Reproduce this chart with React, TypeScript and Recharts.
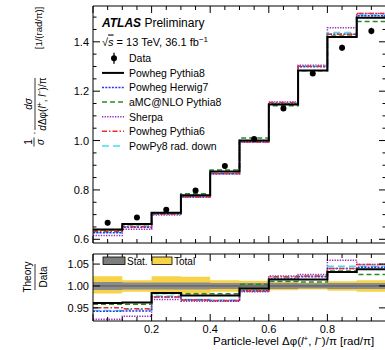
import {
  ComposedChart,
  Line,
  Area,
  Scatter,
  XAxis,
  YAxis,
  ErrorBar,
  ReferenceLine,
} from 'recharts'

// bin edges and centres of the Δφ(l+,l-)/π distribution
const binEdges = [0, 0.1, 0.2, 0.3, 0.4, 0.5, 0.6, 0.7, 0.8, 0.9, 1.0]
const binCentres = [0.05, 0.15, 0.25, 0.35, 0.45, 0.55, 0.65, 0.75, 0.85, 0.95]

// measured data
const dataValues = [0.667, 0.688, 0.72, 0.798, 0.897, 1.006, 1.13, 1.272, 1.376, 1.444]
const dataErrors = [0.01, 0.008, 0.009, 0.009, 0.009, 0.009, 0.01, 0.011, 0.012, 0.013]

// predictions, normalised cross-section
const powhegPythia8 = [0.64, 0.662, 0.708, 0.778, 0.875, 1.0, 1.146, 1.284, 1.419, 1.497]
const powhegHerwig7 = [0.627, 0.649, 0.702, 0.772, 0.866, 0.995, 1.148, 1.299, 1.431, 1.506]
const amcPythia8 = [0.638, 0.659, 0.708, 0.784, 0.881, 1.01, 1.141, 1.283, 1.423, 1.482]
const sherpa = [0.615, 0.641, 0.698, 0.77, 0.866, 0.993, 1.156, 1.305, 1.457, 1.515]
const powhegPythia6 = [0.633, 0.652, 0.702, 0.772, 0.867, 0.994, 1.154, 1.301, 1.431, 1.515]
const powPy8RadDown = [0.629, 0.651, 0.703, 0.773, 0.868, 0.996, 1.151, 1.301, 1.438, 1.509]

// theory / data
const ratioPowhegPythia8 = [0.961, 0.962, 0.984, 0.978, 0.978, 0.994, 1.015, 1.015, 1.032, 1.038]
const ratioPowhegHerwig7 = [0.942, 0.943, 0.975, 0.968, 0.966, 0.989, 1.016, 1.021, 1.04, 1.043]
const ratioAmcPythia8 = [0.958, 0.958, 0.983, 0.982, 0.982, 1.004, 1.01, 1.009, 1.034, 1.026]
const ratioSherpa = [0.924, 0.931, 0.969, 0.965, 0.965, 0.987, 1.023, 1.026, 1.059, 1.049]
const ratioPowhegPythia6 = [0.95, 0.948, 0.975, 0.968, 0.967, 0.988, 1.021, 1.023, 1.04, 1.049]
const ratioPowPy8RadDown = [0.944, 0.946, 0.977, 0.969, 0.968, 0.99, 1.019, 1.023, 1.045, 1.045]

// relative uncertainties
const statUnc = [0.009, 0.008, 0.008, 0.008, 0.007, 0.007, 0.007, 0.006, 0.007, 0.007]
const totalUp = [0.022, 0.013, 0.022, 0.021, 0.013, 0.012, 0.01, 0.008, 0.011, 0.013]
const totalDown = [0.017, 0.013, 0.017, 0.017, 0.013, 0.012, 0.01, 0.008, 0.011, 0.013]

// ticks
const xTicks = [0, 0.05, 0.1, 0.15, 0.2, 0.25, 0.3, 0.35, 0.4, 0.45, 0.5, 0.55, 0.6, 0.65, 0.7, 0.75, 0.8, 0.85, 0.9, 0.95, 1.0]
const xLabelTicks = [0.2, 0.4, 0.6, 0.8]
const yTopTicks = [0.6, 0.65, 0.7, 0.75, 0.8, 0.85, 0.9, 0.95, 1.0, 1.05, 1.1, 1.15, 1.2, 1.25, 1.3, 1.35, 1.4, 1.45, 1.5]
const yTopLabelTicks = [0.6, 0.8, 1.0, 1.2, 1.4]
const yRatioTicks = [0.95, 1.0, 1.05]

const legendNames = [
  'Powheg Pythia8',
  'Powheg Herwig7',
  'aMC@NLO Pythia8',
  'Sherpa',
  'Powheg Pythia6',
  'PowPy8 rad. down',
]

const FONT = '"Liberation Sans", Arial, Helvetica, sans-serif'

const series = [
  { key: 'sherpa', name: 'Sherpa', color: '#9b27b8', dash: '1.3 1.3', width: 1.5 },
  { key: 'raddown', name: 'PowPy8 rad. down', color: '#3fe0f0', dash: '7 4', width: 1.5 },
  { key: 'her7', name: 'Powheg Herwig7', color: '#2435ee', dash: '2 1.3', width: 1.5 },
  { key: 'py6', name: 'Powheg Pythia6', color: '#ec2b2b', dash: '5 2 1.5 2', width: 1.5 },
  { key: 'amc', name: 'aMC@NLO Pythia8', color: '#2a8a2a', dash: '5 3', width: 1.5 },
  { key: 'pp8', name: 'Powheg Pythia8', color: '#000000', dash: undefined, width: 2 },
]

const pick = (arr: number[], i: number) => arr[Math.min(i, arr.length - 1)]

const topRows = binEdges.map((x, i) => ({
  x,
  pp8: pick(powhegPythia8, i),
  her7: pick(powhegHerwig7, i),
  amc: pick(amcPythia8, i),
  sherpa: pick(sherpa, i),
  py6: pick(powhegPythia6, i),
  raddown: pick(powPy8RadDown, i),
}))

const pointRows = binCentres.map((x, i) => ({ x, y: dataValues[i], err: dataErrors[i] }))

const ratioRows = binEdges.map((x, i) => ({
  x,
  pp8: pick(ratioPowhegPythia8, i),
  her7: pick(ratioPowhegHerwig7, i),
  amc: pick(ratioAmcPythia8, i),
  sherpa: pick(ratioSherpa, i),
  py6: pick(ratioPowhegPythia6, i),
  raddown: pick(ratioPowPy8RadDown, i),
  stat: [1 - pick(statUnc, i), 1 + pick(statUnc, i)],
  total: [1 - pick(totalDown, i), 1 + pick(totalUp, i)],
}))

const near = (v: number, list: number[]) => list.some((t) => Math.abs(t - v) < 1e-6)

const XTick = (p: any) => {
  const { x, y, payload, side, labels } = p
  const v = payload.value
  const major = Math.round(v * 100) % 20 === 0
  const len = major ? 7 : 4
  const dir = side === 'bottom' ? -1 : 1
  return (
    <g>
      <line x1={x} x2={x} y1={y} y2={y + dir * len} stroke="#000" strokeWidth={1} />
      {labels && near(v, xLabelTicks) && (
        <text x={x} y={y + 11.5} textAnchor="middle" fontSize={11} fontFamily={FONT} fill="#000">
          {v.toFixed(1)}
        </text>
      )}
    </g>
  )
}

const YTick = (p: any) => {
  const { x, y, payload, side, labelList, digits } = p
  const v = payload.value
  const major = near(v, labelList)
  const len = major ? 7 : 3.5
  const dir = side === 'left' ? 1 : -1
  return (
    <g>
      <line x1={x} x2={x + dir * len} y1={y} y2={y} stroke="#000" strokeWidth={1} />
      {side === 'left' && major && (
        <text x={x - 4} y={y + 4} textAnchor="end" fontSize={11} fontFamily={FONT} fill="#000">
          {v.toFixed(digits)}
        </text>
      )}
    </g>
  )
}

const DataDot = (p: any) => <circle cx={p.cx} cy={p.cy} r={3} fill="#000" />

const axisLine = { stroke: '#000', strokeWidth: 1 }

const App = (): JSX.Element => {
  const legendY = (i: number) => 58.3 + i * 14.6
  return (
    <div
      style={{
        position: 'absolute',
        left: 0,
        top: 0,
        width: 385,
        height: 350,
        overflow: 'hidden',
        background: '#fff',
      }}
    >
      <div style={{ position: 'absolute', left: 0, top: 0 }}>
        <ComposedChart width={390} height={250} data={topRows} margin={{ top: 5, right: 3, bottom: 6, left: 92 }}>
          <XAxis
            xAxisId="b"
            dataKey="x"
            type="number"
            domain={[0, 1]}
            allowDataOverflow
            ticks={xTicks}
            interval={0}
            orientation="bottom"
            height={1}
            tickSize={0}
            tickMargin={0}
            tickLine={false}
            axisLine={axisLine}
            tick={(p: any) => <XTick {...p} side="bottom" labels={false} />}
          />
          <XAxis
            xAxisId="t"
            dataKey="x"
            type="number"
            domain={[0, 1]}
            allowDataOverflow
            ticks={xTicks}
            interval={0}
            orientation="top"
            height={1}
            tickSize={0}
            tickMargin={0}
            tickLine={false}
            axisLine={axisLine}
            tick={(p: any) => <XTick {...p} side="top" labels={false} />}
          />
          <YAxis
            yAxisId="l"
            type="number"
            domain={[0.585, 1.545]}
            allowDataOverflow
            ticks={yTopTicks}
            interval={0}
            orientation="left"
            width={1}
            tickSize={0}
            tickMargin={0}
            tickLine={false}
            axisLine={axisLine}
            tick={(p: any) => <YTick {...p} side="left" labelList={yTopLabelTicks} digits={1} />}
          />
          <YAxis
            yAxisId="r"
            type="number"
            domain={[0.585, 1.545]}
            allowDataOverflow
            ticks={yTopTicks}
            interval={0}
            orientation="right"
            width={1}
            tickSize={0}
            tickMargin={0}
            tickLine={false}
            axisLine={axisLine}
            tick={(p: any) => <YTick {...p} side="right" labelList={yTopLabelTicks} digits={1} />}
          />
          {series.map((s) => (
            <Line
              key={s.key}
              xAxisId="b"
              yAxisId="l"
              type="stepAfter"
              dataKey={s.key}
              stroke={s.color}
              strokeWidth={s.width}
              strokeDasharray={s.dash}
              dot={false}
              isAnimationActive={false}
            />
          ))}
          <Scatter
            xAxisId="b"
            yAxisId="l"
            data={pointRows}
            dataKey="y"
            shape={DataDot}
            fill="#000"
            isAnimationActive={false}
          >
            <ErrorBar dataKey="err" direction="y" width={0} stroke="#000" strokeWidth={1.3} />
          </Scatter>
        </ComposedChart>
      </div>

      <div style={{ position: 'absolute', left: 0, top: 250 }}>
        <ComposedChart width={390} height={100} data={ratioRows} margin={{ top: 3, right: 3, bottom: 28, left: 92 }}>
          <XAxis
            xAxisId="b"
            dataKey="x"
            type="number"
            domain={[0, 1]}
            allowDataOverflow
            ticks={xTicks}
            interval={0}
            orientation="bottom"
            height={1}
            tickSize={0}
            tickMargin={0}
            tickLine={false}
            axisLine={axisLine}
            tick={(p: any) => <XTick {...p} side="bottom" labels={true} />}
          />
          <XAxis
            xAxisId="t"
            dataKey="x"
            type="number"
            domain={[0, 1]}
            allowDataOverflow
            ticks={xTicks}
            interval={0}
            orientation="top"
            height={1}
            tickSize={0}
            tickMargin={0}
            tickLine={false}
            axisLine={axisLine}
            tick={(p: any) => <XTick {...p} side="top" labels={false} />}
          />
          <YAxis
            yAxisId="l"
            type="number"
            domain={[0.92, 1.073]}
            allowDataOverflow
            ticks={yRatioTicks}
            interval={0}
            orientation="left"
            width={1}
            tickSize={0}
            tickMargin={0}
            tickLine={false}
            axisLine={axisLine}
            tick={(p: any) => <YTick {...p} side="left" labelList={yRatioTicks} digits={2} />}
          />
          <YAxis
            yAxisId="r"
            type="number"
            domain={[0.92, 1.073]}
            allowDataOverflow
            ticks={yRatioTicks}
            interval={0}
            orientation="right"
            width={1}
            tickSize={0}
            tickMargin={0}
            tickLine={false}
            axisLine={axisLine}
            tick={(p: any) => <YTick {...p} side="right" labelList={yRatioTicks} digits={2} />}
          />
          <Area
            xAxisId="b"
            yAxisId="l"
            type="stepAfter"
            dataKey="total"
            stroke="none"
            fill="#f8d347"
            fillOpacity={1}
            isAnimationActive={false}
          />
          <Area
            xAxisId="b"
            yAxisId="l"
            type="stepAfter"
            dataKey="stat"
            stroke="none"
            fill="#8c8c8c"
            fillOpacity={1}
            isAnimationActive={false}
          />
          <ReferenceLine xAxisId="b" yAxisId="l" y={1} stroke="#555" strokeWidth={1} />
          {series.map((s) => (
            <Line
              key={s.key}
              xAxisId="b"
              yAxisId="l"
              type="stepAfter"
              dataKey={s.key}
              stroke={s.color}
              strokeWidth={s.width}
              strokeDasharray={s.dash}
              dot={false}
              isAnimationActive={false}
            />
          ))}
        </ComposedChart>
      </div>

      <svg
        width={385}
        height={350}
        style={{ position: 'absolute', left: 0, top: 0, pointerEvents: 'none' }}
        fontFamily={FONT}
      >
        <text x={102} y={26.5} fontSize={12} fill="#000">
          <tspan fontWeight="bold" fontStyle="italic">ATLAS</tspan>
          <tspan> Preliminary</tspan>
        </text>
        <text x={102} y={45.5} fontSize={11} fill="#000">
          <tspan>√</tspan>
          <tspan fontStyle="italic" textDecoration="overline">s</tspan>
          <tspan> = 13 TeV, 36.1 fb</tspan>
          <tspan dy={-4} fontSize={8}>−1</tspan>
        </text>

        {/* legend */}
        <line x1={114} x2={114} y1={legendY(0) - 5.5} y2={legendY(0) + 5.5} stroke="#000" strokeWidth={1.3} />
        <circle cx={114} cy={legendY(0)} r={3} fill="#000" />
        <text x={129} y={legendY(0) + 3.8} fontSize={10.5} fill="#000">Data</text>
        {legendNames.map((name, i) => {
          const s = series.find((q) => q.name === name)!
          const y = legendY(i + 1)
          return (
            <g key={name}>
              <line x1={102} x2={124} y1={y} y2={y} stroke={s.color} strokeWidth={s.width} strokeDasharray={s.dash} />
              <text x={129} y={y + 3.8} fontSize={10.5} fill="#000">{name}</text>
            </g>
          )
        })}

        {/* ratio legend */}
        <rect x={103} y={257} width={22} height={7.5} fill="#7d7d7d" stroke="#000" strokeWidth={0.8} />
        <text x={127} y={264.5} fontSize={10} fill="#000">Stat.</text>
        <rect x={152} y={257} width={20} height={7.5} fill="#f8d347" stroke="#000" strokeWidth={0.8} />
        <text x={174} y={264.5} fontSize={10} fill="#000">Total</text>

        {/* y title, top panel */}
        <g fontSize={10} fill="#000">
          <text transform="translate(28,142) rotate(-90)" textAnchor="middle" dominantBaseline="central">1</text>
          <line x1={34} x2={34} y1={137.5} y2={146.5} stroke="#000" strokeWidth={0.8} />
          <text transform="translate(40,142) rotate(-90)" textAnchor="middle" dominantBaseline="central" fontStyle="italic">σ</text>
          <text transform="translate(34,133) rotate(-90)" textAnchor="middle" dominantBaseline="central">·</text>
          <text transform="translate(28,104) rotate(-90)" textAnchor="middle" dominantBaseline="central" fontStyle="italic">dσ</text>
          <line x1={35} x2={35} y1={78} y2={130} stroke="#000" strokeWidth={0.8} />
          <text transform="translate(42,104) rotate(-90)" textAnchor="middle" dominantBaseline="central">
            <tspan fontStyle="italic">d</tspan>
            <tspan>Δφ(</tspan>
            <tspan fontStyle="italic">l</tspan>
            <tspan dy={-3} fontSize={7}>+</tspan>
            <tspan dy={3}>, </tspan>
            <tspan fontStyle="italic">l</tspan>
            <tspan dy={-3} fontSize={7}>−</tspan>
            <tspan dy={3}>)/π</tspan>
          </text>
          <text transform="translate(38,28) rotate(-90)" textAnchor="middle" dominantBaseline="central" fontSize={9.5}>
            [1/(rad/π)]
          </text>
        </g>

        {/* y title, ratio panel */}
        <g fontSize={10} fill="#000">
          <text transform="translate(27,277) rotate(-90)" textAnchor="middle" dominantBaseline="central">Theory</text>
          <line x1={35} x2={35} y1={264} y2={290} stroke="#000" strokeWidth={0.8} />
          <text transform="translate(43,277) rotate(-90)" textAnchor="middle" dominantBaseline="central">Data</text>
        </g>

        {/* x title */}
        <text x={213} y={344.5} fontSize={11.5} fill="#000">
          <tspan>Particle-level Δφ(</tspan>
          <tspan fontStyle="italic">l</tspan>
          <tspan dy={-4} fontSize={8}>+</tspan>
          <tspan dy={4}>, </tspan>
          <tspan fontStyle="italic">l</tspan>
          <tspan dy={-4} fontSize={8}>−</tspan>
          <tspan dy={4}>)/π [rad/π]</tspan>
        </text>
      </svg>
    </div>
  )
}

export default App
